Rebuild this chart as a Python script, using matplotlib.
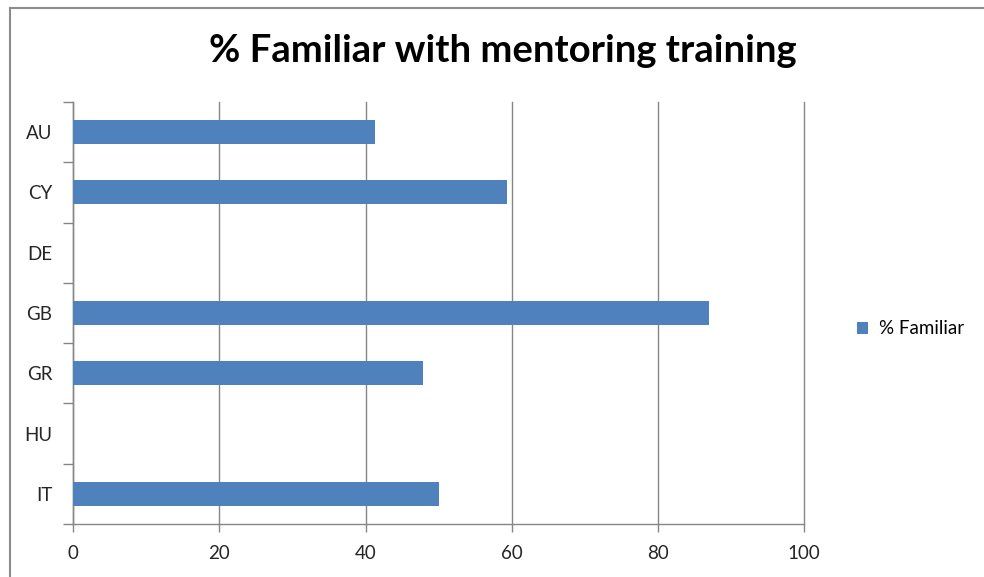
import matplotlib.pyplot as plt
import numpy as np
from matplotlib.lines import Line2D
from matplotlib.patches import Patch

countries = ["AU", "CY", "DE", "GB", "GR", "HU", "IT"]
familiar = [41.3, 59.4, 0, 87.0, 47.9, 0, 50.0]
x_ticks = [0, 20, 40, 60, 80, 100]

BAR = "#4F81BD"
GRID = "#868686"
TXT = "#262626"
FS = 13.5

fig = plt.figure(figsize=(9.84, 5.77), dpi=100)
ax = fig.add_axes([73 / 984, 53 / 577, (804.3 - 73) / 984, (524 - 102) / 577])

y = np.arange(len(countries))
ax.barh(y, familiar, height=0.4, color=BAR, linewidth=0, zorder=3)

ax.set_xlim(0, 100)
ax.set_ylim(len(countries) - 0.5, -0.5)
ax.set_xticks(x_ticks)
ax.set_xticklabels([str(v) for v in x_ticks], fontsize=FS, color=TXT, family="Lato")
ax.tick_params(axis="x", length=6, width=1, color=GRID, pad=9)

ax.set_yticks(np.arange(-0.5, len(countries)), minor=False)
ax.set_yticklabels([])
ax.set_yticks(y, minor=True)
ax.set_yticklabels(countries, minor=True, fontsize=FS, color=TXT, family="Lato")
ax.tick_params(axis="y", which="major", length=7, width=1, color=GRID)
ax.tick_params(axis="y", which="minor", length=0, pad=15)

ax.grid(axis="x", color=GRID, linewidth=1, zorder=0)
for gl in ax.get_xgridlines():
    gl.set_clip_on(False)
ax.set_axisbelow(True)
for side in ["top", "right"]:
    ax.spines[side].set_visible(False)
for side in ["left", "bottom"]:
    ax.spines[side].set_color(GRID)
    ax.spines[side].set_linewidth(1)

fig.text(503 / 984, 1 - 51 / 577, "% Familiar with mentoring training",
         ha="center", va="center", fontsize=27.5, fontweight="bold",
         family="Lato", color="black")

handle = Patch(facecolor=BAR, edgecolor="none")
fig.legend([handle], ["% Familiar"], loc="center left",
           bbox_to_anchor=(840 / 984, 1 - 329 / 577), frameon=False,
           handlelength=0.6, handleheight=0.6, handletextpad=0.6,
           prop={"family": "Lato", "size": FS})

# outer chart border (left and top edges)
fig.add_artist(Line2D([9.5 / 984, 9.5 / 984], [0, 1 - 8 / 577], transform=fig.transFigure,
                      color="#8C8C8C", linewidth=1.5))
fig.add_artist(Line2D([9.5 / 984, 1], [1 - 8 / 577, 1 - 8 / 577], transform=fig.transFigure,
                      color="#8C8C8C", linewidth=1.5))

fig.savefig("out.png", dpi=100)
